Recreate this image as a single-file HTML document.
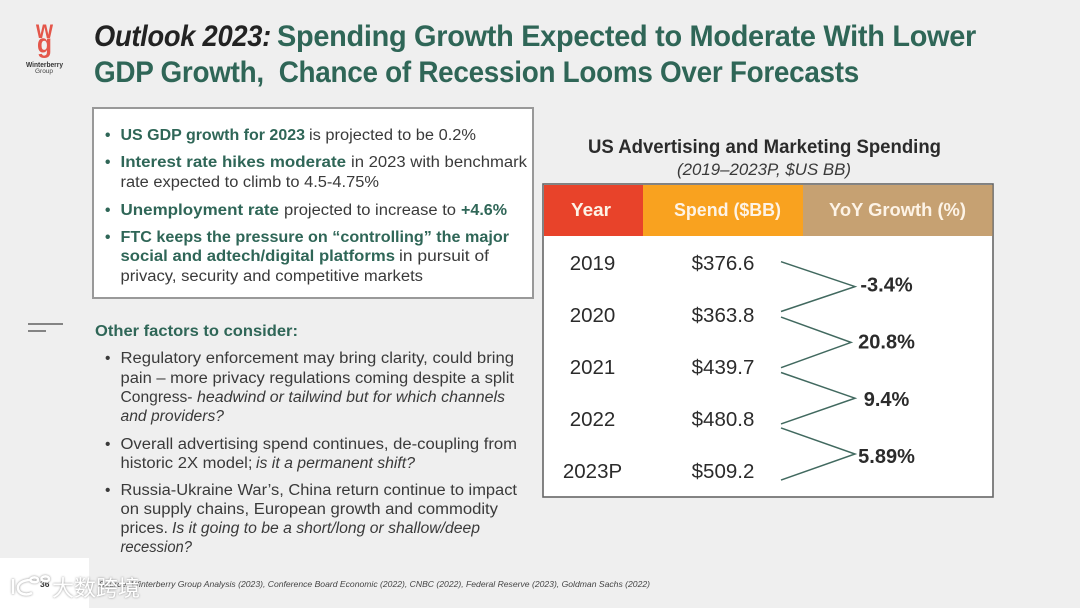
<!DOCTYPE html>
<html lang="en">
<head>
<meta charset="utf-8">
<title>Outlook 2023</title>
<style>
html,body{margin:0;padding:0;background:#efefef;width:1080px;height:608px;overflow:hidden}
svg{display:block}
text{font-family:"Liberation Sans","Noto Sans CJK SC",sans-serif}
.t{font-size:29.5px;font-weight:700;letter-spacing:-.3px}
.b{font-size:15.5px;fill:#3a3a3a}
.g{font-size:15.5px;fill:#2f6657;font-weight:700}
.i{font-size:15.5px;fill:#3a3a3a;font-style:italic}
.h{font-size:18px;font-weight:700;fill:#fdf3e6}
</style>
</head>
<body>
<svg id="slide" xmlns="http://www.w3.org/2000/svg" width="1080" height="608" viewBox="0 0 1080 608">
<rect width="1080" height="608" fill="#efefef"/>

<g>
<text x="36" y="38" font-size="26" font-weight="700" fill="#e4564a" textLength="17" lengthAdjust="spacingAndGlyphs">w</text>
<text x="37" y="52.3" font-size="27" font-weight="700" fill="#e4564a" textLength="15" lengthAdjust="spacingAndGlyphs">g</text>
<text x="26" y="67" font-size="7" font-weight="700" fill="#333" textLength="37" lengthAdjust="spacingAndGlyphs">Winterberry</text>
<text x="35" y="73" font-size="6.5" font-weight="400" fill="#444" textLength="18" lengthAdjust="spacingAndGlyphs">Group</text>
</g>

<g>
<text class="t" x="94" y="46" fill="#222" font-style="italic" textLength="177" lengthAdjust="spacingAndGlyphs">Outlook 2023:</text>
<text class="t" x="277" y="46" fill="#2f6657" textLength="699" lengthAdjust="spacingAndGlyphs">Spending Growth Expected to Moderate With Lower</text>
<text class="t" x="94" y="82" fill="#2f6657" textLength="765" lengthAdjust="spacingAndGlyphs" xml:space="preserve">GDP Growth,  Chance of Recession Looms Over Forecasts</text>
</g>

<g>
<rect x="93" y="108" width="440" height="190" fill="#fff" stroke="#999" stroke-width="2"/>
<text class="g" x="105" y="140">•</text>
<text class="g" x="120.500" y="140" textLength="184.500" lengthAdjust="spacingAndGlyphs">US GDP growth for 2023</text>
<text class="b" x="309" y="140" textLength="167" lengthAdjust="spacingAndGlyphs">is projected to be 0.2%</text>
<text class="g" x="105" y="167">•</text>
<text class="g" x="120.500" y="167" textLength="225.500" lengthAdjust="spacingAndGlyphs">Interest rate hikes moderate</text>
<text class="b" x="351" y="167" textLength="176" lengthAdjust="spacingAndGlyphs">in 2023 with benchmark</text>
<text class="b" x="120.500" y="187" textLength="258.500" lengthAdjust="spacingAndGlyphs">rate expected to climb to 4.5-4.75%</text>
<text class="g" x="105" y="215">•</text>
<text class="g" x="120.500" y="215" textLength="158.500" lengthAdjust="spacingAndGlyphs">Unemployment rate</text>
<text class="b" x="284" y="215" textLength="172" lengthAdjust="spacingAndGlyphs">projected to increase to</text>
<text class="g" x="461" y="215" textLength="46" lengthAdjust="spacingAndGlyphs">+4.6%</text>
<text class="g" x="105" y="242">•</text>
<text class="g" x="120.500" y="242" textLength="388.500" lengthAdjust="spacingAndGlyphs">FTC keeps the pressure on “controlling” the major</text>
<text class="g" x="120.500" y="261" textLength="274.500" lengthAdjust="spacingAndGlyphs">social and adtech/digital platforms</text>
<text class="b" x="399" y="261" textLength="90" lengthAdjust="spacingAndGlyphs">in pursuit of</text>
<text class="b" x="120.500" y="281" textLength="302.500" lengthAdjust="spacingAndGlyphs">privacy, security and competitive markets</text>
</g>

<g stroke="#444" stroke-width="1.3">
<line x1="28" y1="324" x2="63" y2="324"/>
<line x1="28" y1="331" x2="46" y2="331"/>
</g>

<g>
<text class="g" x="95" y="336" textLength="203" lengthAdjust="spacingAndGlyphs">Other factors to consider:</text>
<text class="b" x="105" y="363">•</text>
<text class="b" x="120.500" y="363" textLength="393.500" lengthAdjust="spacingAndGlyphs">Regulatory enforcement may bring clarity, could bring</text>
<text class="b" x="120.500" y="383" textLength="393.500" lengthAdjust="spacingAndGlyphs">pain – more privacy regulations coming despite a split</text>
<text class="b" x="120.500" y="402" textLength="72" lengthAdjust="spacingAndGlyphs">Congress-</text>
<text class="i" x="197" y="402" textLength="308" lengthAdjust="spacingAndGlyphs">headwind or tailwind but for which channels</text>
<text class="i" x="120.500" y="421" textLength="103.500" lengthAdjust="spacingAndGlyphs">and providers?</text>
<text class="b" x="105" y="449">•</text>
<text class="b" x="120.500" y="449" textLength="396.500" lengthAdjust="spacingAndGlyphs">Overall advertising spend continues, de-coupling from</text>
<text class="b" x="120.500" y="468" textLength="132" lengthAdjust="spacingAndGlyphs">historic 2X model;</text>
<text class="i" x="256" y="468" textLength="159" lengthAdjust="spacingAndGlyphs">is it a permanent shift?</text>
<text class="b" x="105" y="495">•</text>
<text class="b" x="120.500" y="495" textLength="396.500" lengthAdjust="spacingAndGlyphs">Russia-Ukraine War’s, China return continue to impact</text>
<text class="b" x="120.500" y="514" textLength="377.500" lengthAdjust="spacingAndGlyphs">on supply chains, European growth and commodity</text>
<text class="b" x="120.500" y="533" textLength="47.500" lengthAdjust="spacingAndGlyphs">prices.</text>
<text class="i" x="172" y="533" textLength="308" lengthAdjust="spacingAndGlyphs">Is it going to be a short/long or shallow/deep</text>
<text class="i" x="120.500" y="552" textLength="71.500" lengthAdjust="spacingAndGlyphs">recession?</text>
</g>

<g>
<text x="764.500" y="153" text-anchor="middle" font-size="19" font-weight="700" fill="#2b2b2b" textLength="353" lengthAdjust="spacingAndGlyphs">US Advertising and Marketing Spending</text>
<text x="764" y="175" text-anchor="middle" font-size="17" font-style="italic" fill="#3a3a3a" textLength="174" lengthAdjust="spacingAndGlyphs">(2019–2023P, $US BB)</text>
</g>

<g id="table">
<rect x="543" y="184" width="450" height="313" fill="#fff" stroke="#666" stroke-width="1.6"/>
<rect x="544" y="185" width="99" height="51" fill="#e8432a"/>
<rect x="643" y="185" width="160" height="51" fill="#f9a21f"/>
<rect x="803" y="185" width="189.500" height="51" fill="#c6a172"/>
<text class="h" x="591" y="216" text-anchor="middle" textLength="40" lengthAdjust="spacingAndGlyphs">Year</text>
<text class="h" x="727.500" y="216" text-anchor="middle" textLength="107" lengthAdjust="spacingAndGlyphs">Spend ($BB)</text>
<text class="h" x="897.500" y="216" text-anchor="middle" textLength="137" lengthAdjust="spacingAndGlyphs">YoY Growth (%)</text>
<g id="rows"></g>
<g id="connectors"></g>
</g>

<g>
<rect x="0" y="558" width="89" height="50" fill="#fff"/>
<text x="40" y="587" font-size="8.500" font-weight="700" fill="#333">36</text>
<text x="99" y="587" font-size="8.500" font-style="italic" fill="#444" textLength="551" lengthAdjust="spacingAndGlyphs">Source: Winterberry Group Analysis (2023), Conference Board Economic (2022), CNBC (2022), Federal Reserve (2023), Goldman Sachs (2022)</text>
<path d="M13 579v15M31 580c-9 0-14 4-13 9s8 7 14 4M30 580c2-4 8-3 8 0s-6 3-8 0M41 579c2-4 8-3 8 0s-6 3-8 0" fill="none" stroke="#fff" stroke-width="2.500" style="filter:drop-shadow(0 0 1px #8a8a8a)"/>
<text x="52" y="596" font-size="22" fill="#fff" textLength="88" style="filter:drop-shadow(0 0 1px #8a8a8a)">大数跨境</text>
</g>
</svg>
<script>
const years = ["2019", "2020", "2021", "2022", "2023P"];
const spend = [376.6, 363.8, 439.7, 480.8, 509.2];
const growth = ["-3.4%", "20.8%", "9.4%", "5.89%"];

const NS = "http://www.w3.org/2000/svg";
const rowBaseline = i => 270 + 52 * i;
const bracketStart = i => 261.7 + 55.4 * i;
const bracketEnd = i => 311.5 + 56.2 * i;
const labelBaseline = i => 291.5 + 57.2 * i;
const rowsGroup = document.getElementById("rows");
const connectorGroup = document.getElementById("connectors");

function addText(parent, x, y, content, size, weight) {
  const t = document.createElementNS(NS, "text");
  t.setAttribute("x", x);
  t.setAttribute("y", y);
  t.setAttribute("text-anchor", "middle");
  t.setAttribute("font-size", size);
  t.setAttribute("font-weight", weight);
  t.setAttribute("fill", "#2b2b2b");
  t.textContent = content;
  parent.appendChild(t);
  return t;
}

years.forEach((year, i) => {
  const yearCell = addText(rowsGroup, 592.5, rowBaseline(i), year, 20.5, 400);
  
  
  const spendCell = addText(rowsGroup, 723, rowBaseline(i), "$" + spend[i].toFixed(1), 20.5, 400);
  
  
});

growth.forEach((value, i) => {
  const top = bracketStart(i);
  const bottom = bracketEnd(i);
  const tipY = (top + bottom) / 2;
  const tipX = value.length > 4 && value[0] !== "-" && value[1] !== "." ? 851 : 855;
  const bracket = document.createElementNS(NS, "polyline");
  bracket.setAttribute("points", `781,${top} ${tipX},${tipY} 781,${bottom}`);
  bracket.setAttribute("fill", "none");
  bracket.setAttribute("stroke", "#41695f");
  bracket.setAttribute("stroke-width", "1.5");
  
  
  connectorGroup.appendChild(bracket);
  const label = addText(connectorGroup, 886.5, labelBaseline(i), value, 20, 700);
  
  
});
</script>
</body>
</html>
